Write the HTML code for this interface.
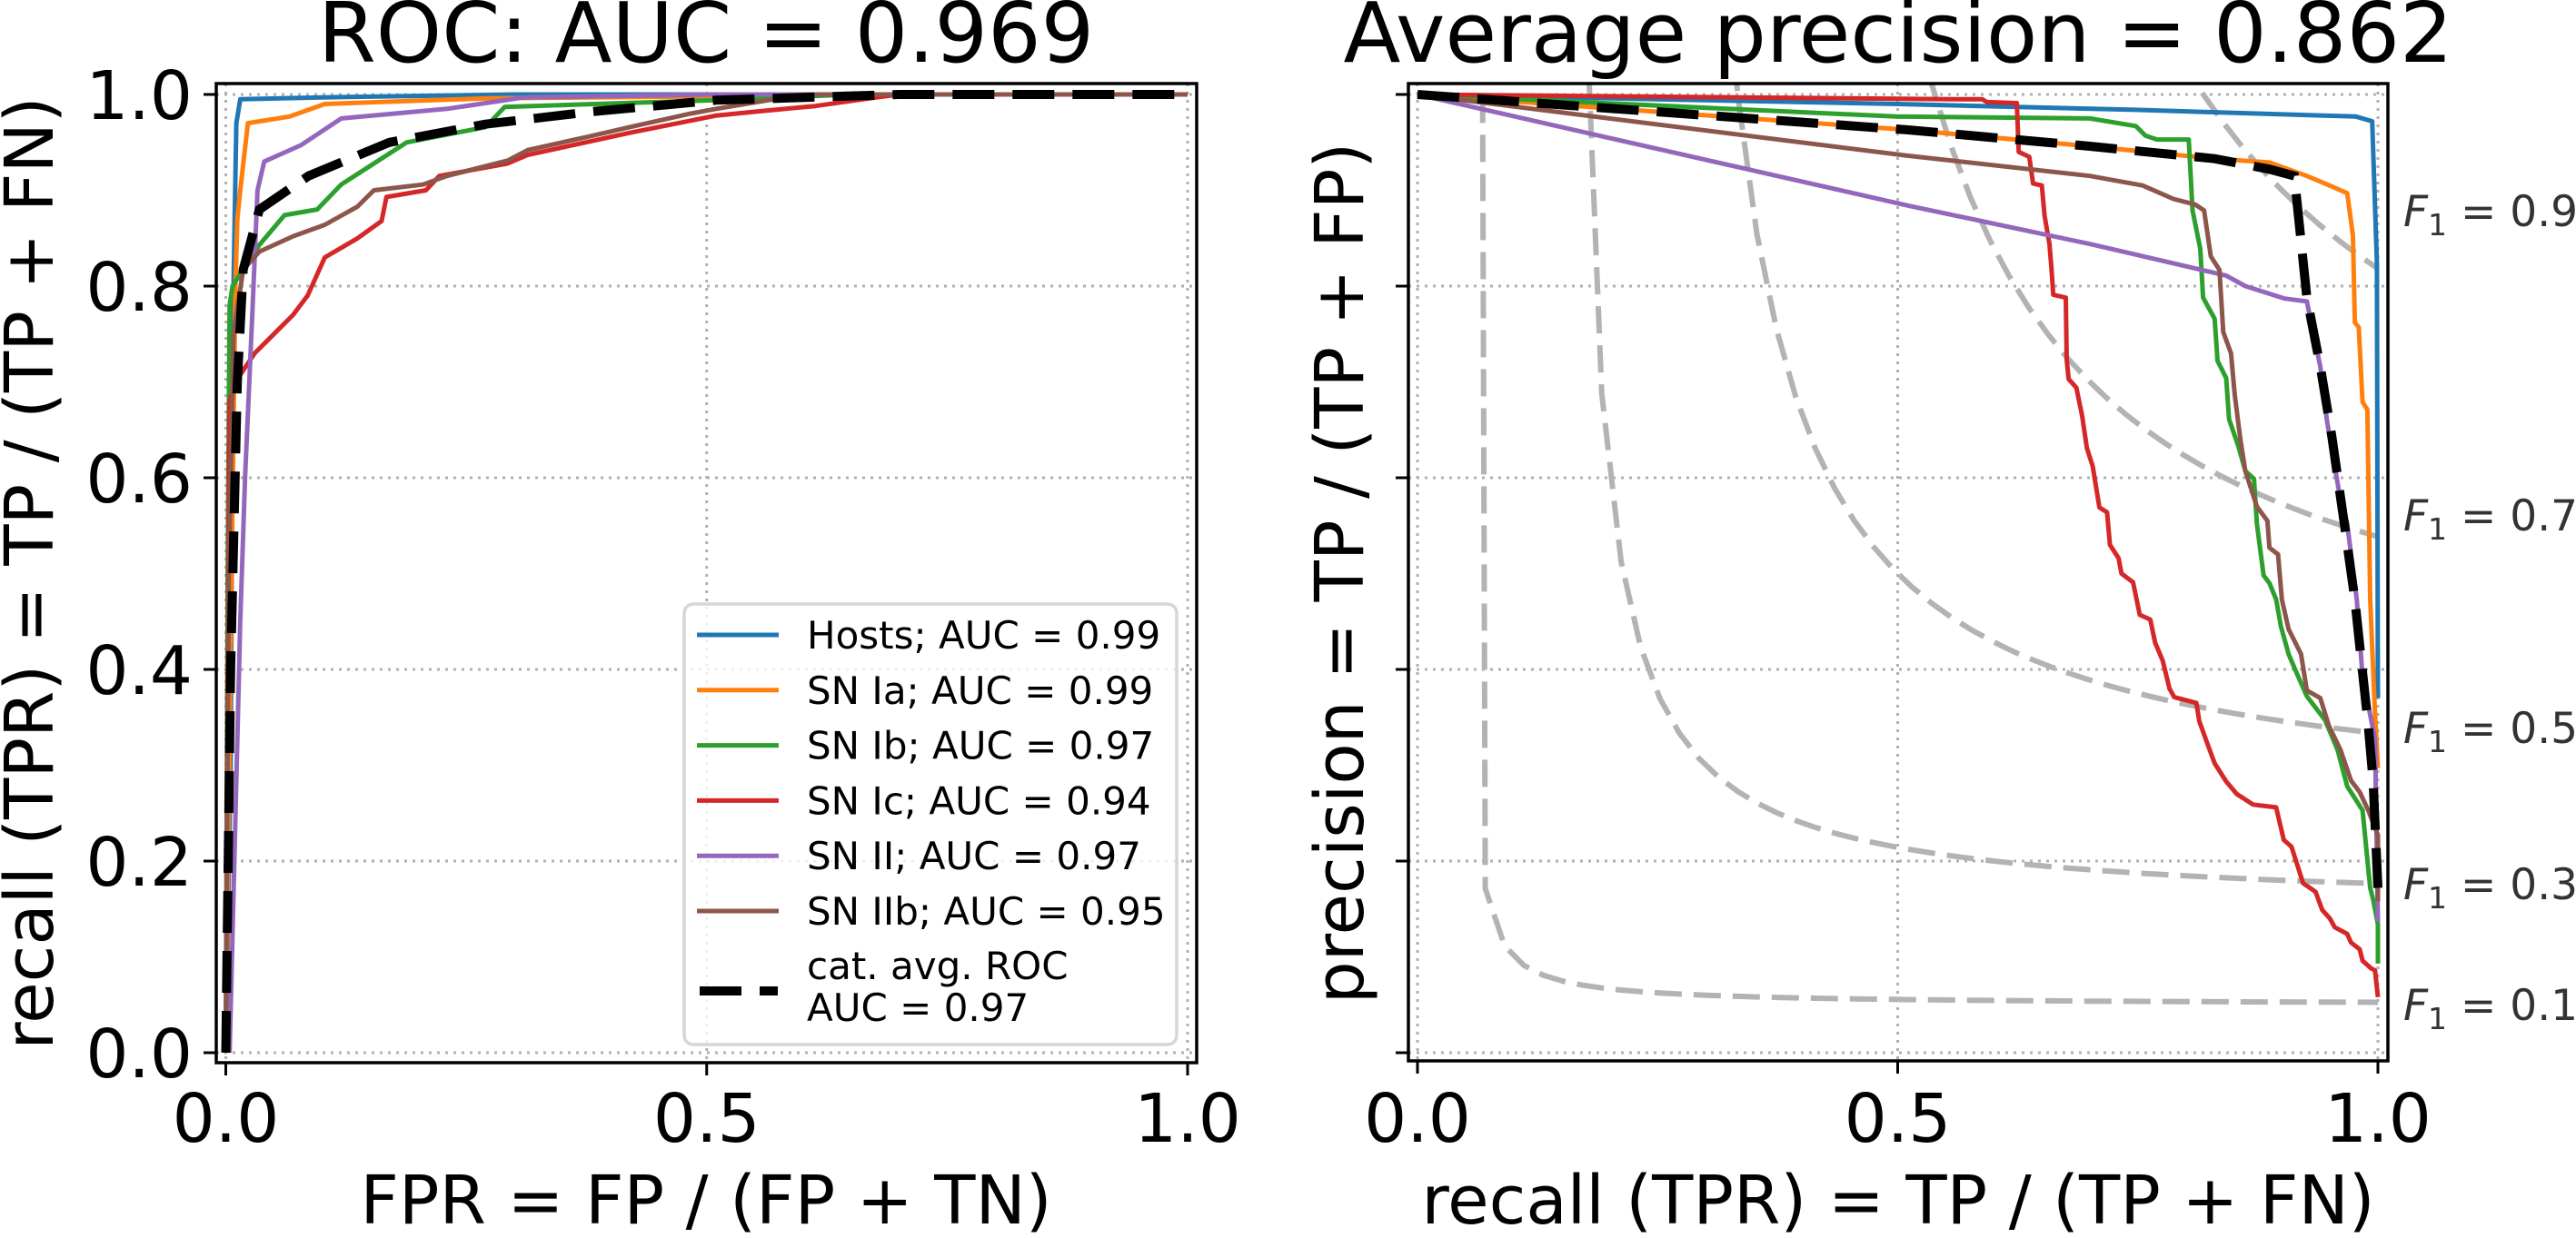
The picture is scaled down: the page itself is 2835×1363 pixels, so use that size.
<!DOCTYPE html>
<html><head><meta charset="utf-8">
<style>
html,body{margin:0;padding:0;background:#fff;}
svg{display:block;font-family:"DejaVu Sans","Liberation Sans",sans-serif;}
</style></head>
<body>
<svg id="fig" width="2835" height="1363" viewBox="0 0 2835 1363" xmlns="http://www.w3.org/2000/svg">
<defs>
<clipPath id="clipL"><rect x="238" y="92" width="1079" height="1078"/></clipPath>
<clipPath id="clipR"><rect x="1550" y="92" width="1078" height="1076"/></clipPath>
</defs>
<rect x="0" y="0" width="2835" height="1363" fill="#fff"/>
<g id="gridL"></g>
<g id="gridR"></g>
<g id="f1g" clip-path="url(#clipR)"></g>
<g id="linesL" clip-path="url(#clipL)"></g>
<g id="linesR" clip-path="url(#clipR)"></g>
<rect x="238" y="92" width="1079" height="1078" fill="none" stroke="#000" stroke-width="3.5"/>
<rect x="1550" y="92" width="1078" height="1076" fill="none" stroke="#000" stroke-width="3.5"/>
<g id="ticks"></g>
<text x="777" y="68" font-size="92" text-anchor="middle">ROC: AUC = 0.969</text>
<text x="2089" y="68" font-size="92" text-anchor="middle">Average precision = 0.862</text>
<text x="777" y="1347" font-size="74" text-anchor="middle">FPR = FP / (FP + TN)</text>
<text x="2089" y="1347" font-size="74" text-anchor="middle">recall (TPR) = TP / (TP + FN)</text>
<text transform="translate(58,631) rotate(-90)" font-size="74" text-anchor="middle">recall (TPR) = TP / (TP + FN)</text>
<text transform="translate(1500,631) rotate(-90)" font-size="74" text-anchor="middle">precision = TP / (TP + FP)</text>
<g id="f1labels"></g>
<g id="legend"></g>
</svg>
<script>
const classNames = ["Hosts","SN Ia","SN Ib","SN Ic","SN II","SN IIb"];
const classAUC = ["0.99","0.99","0.97","0.94","0.97","0.95"];
const colors = ["#1f77b4","#ff7f0e","#2ca02c","#d62728","#9467bd","#8c564b"];
const xTicks = [0, 0.5, 1.0];
const xTickLabels = ["0.0","0.5","1.0"];
const yTicks = [0, 0.2, 0.4, 0.6, 0.8, 1.0];
const yTickLabels = ["0.0","0.2","0.4","0.6","0.8","1.0"];
const f1Levels = [0.1, 0.3, 0.5, 0.7, 0.9];
const f1LabelY = [0.034, 0.160, 0.323, 0.545, 0.8626];

const rocHosts = [[0,0],[0.005,0.3],[0.008,0.8],[0.011,0.97],[0.015,0.995],[0.1,0.997],[0.3,1],[1,1]];
const rocIa = [[0,0],[0.006,0.5],[0.01,0.8],[0.012,0.87],[0.015,0.9],[0.023,0.97],[0.066,0.977],[0.103,0.99],[0.272,0.996],[0.5,0.998],[0.6,1],[1,1]];
const rocIb = [[0,0],[0.002,0.5],[0.004,0.78],[0.007,0.8],[0.035,0.843],[0.061,0.874],[0.095,0.88],[0.12,0.906],[0.154,0.928],[0.188,0.95],[0.27,0.966],[0.29,0.987],[0.51,0.994],[0.65,1],[1,1]];
const rocIc = [[0,0],[0.002,0.4],[0.004,0.68],[0.01,0.7],[0.03,0.73],[0.05,0.75],[0.07,0.77],[0.085,0.79],[0.103,0.83],[0.137,0.85],[0.162,0.868],[0.167,0.893],[0.208,0.9],[0.222,0.915],[0.293,0.928],[0.314,0.937],[0.42,0.96],[0.51,0.978],[0.55,0.982],[0.613,0.988],[0.67,0.996],[0.7,1],[1,1]];
const rocII = [[0.004,0],[0.015,0.45],[0.02,0.6],[0.028,0.78],[0.033,0.9],[0.04,0.93],[0.078,0.947],[0.12,0.975],[0.23,0.985],[0.31,0.997],[0.51,1],[1,1]];
const rocIIb = [[0,0],[0.003,0.5],[0.008,0.75],[0.018,0.817],[0.035,0.836],[0.07,0.852],[0.103,0.864],[0.137,0.883],[0.154,0.9],[0.205,0.906],[0.23,0.915],[0.293,0.931],[0.314,0.942],[0.377,0.956],[0.42,0.966],[0.483,0.98],[0.51,0.985],[0.6,1],[1,1]];
const rocAvg = [[0,0],[0.005,0.4],[0.012,0.7],[0.018,0.817],[0.035,0.88],[0.086,0.915],[0.17,0.95],[0.27,0.969],[0.38,0.982],[0.51,0.994],[0.7,1],[1,1]];

const prHosts = [[0,1],[0.5,0.99],[0.747,0.984],[0.977,0.977],[0.994,0.972],[0.999,0.824],[1.0,0.37]];
const prIa = [[0,1],[0.511,0.963],[0.70,0.946],[0.83,0.933],[0.887,0.929],[0.926,0.915],[0.952,0.904],[0.968,0.897],[0.974,0.853],[0.976,0.762],[0.98,0.757],[0.984,0.679],[0.989,0.671],[0.992,0.473],[0.997,0.354],[1.0,0.297]];
const prIb = [[0,1],[0.498,0.977],[0.70,0.975],[0.748,0.967],[0.758,0.957],[0.77,0.953],[0.803,0.953],[0.807,0.879],[0.815,0.839],[0.818,0.788],[0.83,0.766],[0.833,0.722],[0.842,0.704],[0.845,0.661],[0.855,0.632],[0.862,0.607],[0.871,0.599],[0.874,0.552],[0.881,0.498],[0.887,0.49],[0.894,0.473],[0.899,0.445],[0.907,0.416],[0.915,0.397],[0.926,0.372],[0.945,0.347],[0.958,0.316],[0.968,0.278],[0.984,0.253],[0.988,0.212],[0.992,0.172],[0.995,0.16],[1.0,0.134],[1.0,0.093]];
const prIc = [[0,1],[0.558,0.995],[0.588,0.995],[0.593,0.992],[0.624,0.991],[0.626,0.94],[0.637,0.935],[0.641,0.907],[0.65,0.905],[0.653,0.873],[0.658,0.844],[0.66,0.82],[0.662,0.791],[0.675,0.788],[0.676,0.723],[0.678,0.703],[0.686,0.694],[0.692,0.665],[0.697,0.631],[0.703,0.612],[0.71,0.569],[0.718,0.564],[0.721,0.53],[0.73,0.516],[0.733,0.5],[0.745,0.491],[0.752,0.457],[0.763,0.452],[0.768,0.428],[0.776,0.409],[0.783,0.38],[0.788,0.371],[0.811,0.365],[0.814,0.346],[0.823,0.321],[0.83,0.302],[0.842,0.283],[0.853,0.27],[0.87,0.259],[0.894,0.256],[0.902,0.222],[0.91,0.215],[0.922,0.177],[0.935,0.168],[0.942,0.149],[0.95,0.14],[0.955,0.131],[0.968,0.124],[0.972,0.115],[0.981,0.108],[0.984,0.096],[0.993,0.088],[0.997,0.086],[1.0,0.058]];
const prII = [[0,1],[0.511,0.884],[0.70,0.844],[0.842,0.811],[0.862,0.80],[0.903,0.787],[0.926,0.784],[0.94,0.716],[0.947,0.659],[0.96,0.583],[0.968,0.552],[0.978,0.473],[0.984,0.393],[0.997,0.327],[0.998,0.263],[1.0,0.137]];
const prIIb = [[0,1],[0.511,0.936],[0.70,0.915],[0.755,0.905],[0.787,0.891],[0.81,0.885],[0.819,0.879],[0.826,0.831],[0.835,0.817],[0.839,0.752],[0.847,0.73],[0.851,0.686],[0.857,0.639],[0.862,0.607],[0.874,0.57],[0.885,0.555],[0.887,0.527],[0.896,0.52],[0.9,0.473],[0.907,0.442],[0.92,0.416],[0.926,0.378],[0.94,0.37],[0.949,0.341],[0.961,0.316],[0.972,0.284],[0.981,0.272],[0.99,0.253],[1.0,0.227],[1.0,0.158]];
const prAvg = [[0,1],[0.511,0.963],[0.70,0.946],[0.83,0.933],[0.887,0.922],[0.913,0.915],[0.926,0.788],[0.94,0.716],[0.952,0.643],[0.965,0.552],[0.976,0.473],[0.984,0.397],[0.99,0.341],[0.995,0.284],[1.0,0.172]];

const rocSeries = [rocHosts, rocIa, rocIb, rocIc, rocII, rocIIb];
const prSeries = [prHosts, prIa, prIb, prIc, prII, prIIb];

const NS = "http://www.w3.org/2000/svg";
function lx(v){ return 248.5 + v*1058.5; }
function rx(v){ return 1560 + v*1057; }
function yy(v){ return 1159 - v*1055; }
function mk(tag, attrs, parent){
  const e = document.createElementNS(NS, tag);
  for (const k in attrs) e.setAttribute(k, attrs[k]);
  parent.appendChild(e); return e;
}
function pathD(pts, fx){ return pts.map((p,i)=>(i?"L":"M")+fx(p[0]).toFixed(1)+","+yy(p[1]).toFixed(1)).join(""); }

const gL = document.getElementById("gridL"), gR = document.getElementById("gridR");
const gridStyle = {stroke:"#b0b0b0","stroke-width":3,"stroke-dasharray":"3,6",fill:"none"};
xTicks.forEach(v=>{
  let a = mk("line", Object.assign({x1:lx(v),x2:lx(v),y1:92,y2:1170},gridStyle), gL);
  
  
  let b = mk("line", Object.assign({x1:rx(v),x2:rx(v),y1:92,y2:1168},gridStyle), gR);
  
  
});
yTicks.forEach(v=>{
  let a = mk("line", Object.assign({x1:238,x2:1317,y1:yy(v),y2:yy(v)},gridStyle), gL);
  
  
  let b = mk("line", Object.assign({x1:1550,x2:2628,y1:yy(v),y2:yy(v)},gridStyle), gR);
  
  
});

const f1g = document.getElementById("f1g");
f1Levels.forEach(f=>{
  const pts = [];
  for (let i=0;i<50;i++){ const x = 0.01 + i*(0.99/49); const y = f*x/(2*x-f); if (y>=0) pts.push([x,y]); }
  const p = mk("path", {d:pathD(pts, rx), stroke:"#b3b3b3", "stroke-width":6, "stroke-dasharray":"30,13", fill:"none"}, f1g);
  
  
});

const linesL = document.getElementById("linesL");
rocSeries.forEach((s,i)=>{
  const p = mk("path", {d:pathD(s, lx), stroke:colors[i], "stroke-width":5, fill:"none","stroke-linejoin":"round"}, linesL);
  
  
});
const ra = mk("path", {d:pathD(rocAvg, lx), stroke:"#000", "stroke-width":10, "stroke-dasharray":"46,20", fill:"none"}, linesL);



const linesR = document.getElementById("linesR");
prSeries.forEach((s,i)=>{
  const p = mk("path", {d:pathD(s, rx), stroke:colors[i], "stroke-width":5, fill:"none","stroke-linejoin":"round"}, linesR);
  
  
});
const pa = mk("path", {d:pathD(prAvg, rx), stroke:"#000", "stroke-width":10, "stroke-dasharray":"46,20", fill:"none"}, linesR);



const tk = document.getElementById("ticks");
xTicks.forEach((v,i)=>{
  [[lx(v),1170],[rx(v),1168]].forEach((q,k)=>{
    const l = mk("line",{x1:q[0],x2:q[0],y1:q[1],y2:q[1]+14,stroke:"#000","stroke-width":3},tk);
    
    
    const t = mk("text",{x:q[0],y:1257,"font-size":74,"text-anchor":"middle"},tk);
    t.textContent = xTickLabels[i];
    
    
  });
});
yTicks.forEach((v,i)=>{
  const l = mk("line",{x1:224,x2:238,y1:yy(v),y2:yy(v),stroke:"#000","stroke-width":3},tk);
  
  
  const t = mk("text",{x:212,y:yy(v)+27,"font-size":74,"text-anchor":"end"},tk);
  t.textContent = yTickLabels[i];
  
  
  const l2 = mk("line",{x1:1536,x2:1550,y1:yy(v),y2:yy(v),stroke:"#000","stroke-width":3},tk);
  
  
});

const fl = document.getElementById("f1labels");
f1Levels.forEach((f,i)=>{
  const t = mk("text",{x:2645,y:yy(f1LabelY[i]),"font-size":47,fill:"#333"},fl);
  
  
  const a = mk("tspan",{"font-style":"italic"},t); a.textContent="F";
  const b = mk("tspan",{"font-size":33,dy:10},t); b.textContent="1";
  const c = mk("tspan",{dy:-10},t); c.textContent=" = "+f.toFixed(1);
});

const lg = document.getElementById("legend");
const box = mk("rect",{x:753,y:665,width:542,height:485,rx:10,ry:10,fill:"#fff","fill-opacity":0.8,stroke:"#d6d6d6","stroke-width":3.5},lg);


classNames.forEach((n,i)=>{
  const y = 699 + i*60.8;
  const l = mk("line",{x1:767,x2:857,y1:y,y2:y,stroke:colors[i],"stroke-width":5},lg);
  
  
  const t = mk("text",{x:888,y:y+15,"font-size":42},lg);
  t.textContent = n+"; AUC = "+classAUC[i];
  
  
});
const dl = mk("line",{x1:770,x2:856,y1:1091,y2:1091,stroke:"#000","stroke-width":10,"stroke-dasharray":"46,20"},lg);


const t1 = mk("text",{x:888,y:1078,"font-size":42},lg); t1.textContent="cat. avg. ROC";


const t2 = mk("text",{x:888,y:1124,"font-size":42},lg); t2.textContent="AUC = 0.97";


</script>
</body></html>
